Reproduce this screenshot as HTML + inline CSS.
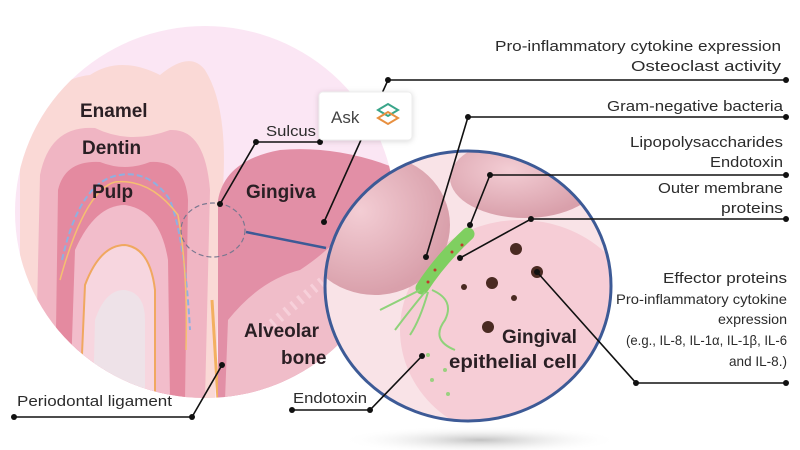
<!DOCTYPE html>
<html><head><meta charset="utf-8"><style>
html,body{margin:0;padding:0;background:#fff;}
svg{display:block;}
text{font-family:"Liberation Sans",sans-serif;fill:#222;}
.b{font-weight:bold;font-size:19px;fill:#2a1f24;}
.s{font-size:15px;fill:#2b2b2b;}
.e{font-size:14px;fill:#2b2b2b;}
</style></head><body>
<svg width="800" height="450" viewBox="0 0 800 450" xmlns="http://www.w3.org/2000/svg">
<defs>
<clipPath id="big"><ellipse cx="205" cy="212" rx="190" ry="186"/></clipPath>
<clipPath id="blue"><ellipse cx="468" cy="286" rx="143" ry="135"/></clipPath>
<radialGradient id="sh" cx="0.5" cy="0.5" r="0.5"><stop offset="0" stop-color="#999" stop-opacity="0.6"/><stop offset="1" stop-color="#fff" stop-opacity="0"/></radialGradient>
<radialGradient id="cell" cx="0.4" cy="0.4" r="0.6"><stop offset="0" stop-color="#f3cdd4"/><stop offset="1" stop-color="#d9a0ab"/></radialGradient>
</defs>
<ellipse cx="480" cy="440" rx="140" ry="14" fill="url(#sh)"/>
<ellipse cx="205" cy="212" rx="190" ry="186" fill="#fbe6f4"/>
<g clip-path="url(#big)">
 <path d="M20 400 L20 150 Q40 80 90 75 Q120 55 160 75 Q190 50 205 70 Q230 110 222 200 L215 400 Z" fill="#fad9d6"/>
 <path d="M35 400 L40 175 Q50 125 95 128 Q130 145 170 130 Q205 128 210 190 L205 400 Z" fill="#f0b5c3"/>
 <path d="M55 400 L58 190 Q65 160 100 162 Q125 172 150 162 Q185 160 188 200 L185 400 Z" fill="#e48aa0"/>
 <path d="M70 400 L75 250 Q95 205 125 205 Q160 210 168 260 L170 400 Z" fill="#f2bdcb"/>
 <path d="M80 400 L85 285 Q100 245 125 245 Q150 248 155 290 L155 400 Z" fill="#f7d6df" stroke="#f0a860" stroke-width="2"/>
 <path d="M93 400 L95 320 Q105 290 124 290 Q145 292 145 320 L145 400 Z" fill="#eee2e8"/>
 <path d="M62 260 Q80 180 120 175 Q150 170 170 200 Q185 240 190 330" fill="none" stroke="#8fb0e0" stroke-width="2" stroke-dasharray="6 3"/>
 <path d="M60 280 Q85 190 115 182 Q150 178 178 215 Q188 270 186 350" fill="none" stroke="#f5c070" stroke-width="1.5"/>
 <path d="M212 300 L218 400" stroke="#f3b060" stroke-width="3"/>
 <path d="M218 400 L218 200 Q225 160 280 150 Q340 145 400 170 L400 400 Z" fill="#e28fa6"/>
 <path d="M225 400 L228 320 Q260 280 300 270 Q330 250 345 230 L400 240 L400 400 Z" fill="#f0bdc9"/>
 <path d="M265 330 Q300 300 330 275" stroke="#f7d0da" stroke-width="10" stroke-dasharray="3 6" fill="none"/>
</g>
<ellipse cx="213" cy="230" rx="32" ry="27" fill="none" stroke="#7a7890" stroke-width="1.2" stroke-dasharray="5 3"/>
<line x1="246" y1="232" x2="326" y2="248" stroke="#3d5a96" stroke-width="2.5"/>
<g clip-path="url(#blue)">
 <rect x="320" y="150" width="300" height="280" fill="#f9e3e7"/>
 <ellipse cx="520" cy="330" rx="120" ry="110" fill="#f6cdd6"/>
 <ellipse cx="375" cy="225" rx="75" ry="70" fill="url(#cell)"/>
 <ellipse cx="525" cy="178" rx="75" ry="40" fill="url(#cell)"/>
 <circle cx="516" cy="249" r="6" fill="#4a2a22"/>
 <circle cx="537" cy="272" r="6" fill="#4a2a22"/>
 <circle cx="492" cy="283" r="6" fill="#4a2a22"/>
 <circle cx="464" cy="287" r="3" fill="#4a2a22"/>
 <circle cx="514" cy="298" r="3" fill="#4a2a22"/>
 <circle cx="488" cy="327" r="6" fill="#4a2a22"/>
 <path d="M422 288 Q440 260 468 234" stroke="#7fcf60" stroke-width="13" stroke-linecap="round" fill="none"/>
 <circle cx="435" cy="270" r="1.5" fill="#c0392b"/><circle cx="452" cy="252" r="1.5" fill="#c0392b"/><circle cx="462" cy="245" r="1.5" fill="#c0392b"/><circle cx="428" cy="282" r="1.5" fill="#c0392b"/>
 <path d="M420 290 Q400 300 380 310 M425 292 Q410 310 395 330 M428 292 Q420 320 410 335 M432 290 Q455 300 445 320 Q430 340 455 350" stroke="#8fd27a" stroke-width="2" fill="none"/>
 <circle cx="428" cy="355" r="2" fill="#9ad080"/><circle cx="445" cy="370" r="2" fill="#9ad080"/><circle cx="432" cy="380" r="2" fill="#9ad080"/><circle cx="448" cy="394" r="2" fill="#9ad080"/>
</g>
<ellipse cx="468" cy="286" rx="143" ry="135" fill="none" stroke="#3d5a96" stroke-width="3"/>
<g stroke="#111" stroke-width="1.6" fill="none">
 <polyline points="324,222 388,80 786,80"/>
 <polyline points="426,257 468,117 786,117"/>
 <polyline points="470,225 490,175 786,175"/>
 <polyline points="460,258 531,219 786,219"/>
 <polyline points="537,272 636,383 786,383"/>
 <polyline points="292,410 370,410 422,356"/>
 <polyline points="14,417 192,417 222,365"/>
 <polyline points="220,204 256,142 320,142"/>
</g>
<g fill="#111">
 <circle cx="324" cy="222" r="3"/><circle cx="388" cy="80" r="3"/><circle cx="786" cy="80" r="3"/>
 <circle cx="426" cy="257" r="3"/><circle cx="468" cy="117" r="3"/><circle cx="786" cy="117" r="3"/>
 <circle cx="470" cy="225" r="3"/><circle cx="490" cy="175" r="3"/><circle cx="786" cy="175" r="3"/>
 <circle cx="460" cy="258" r="3"/><circle cx="531" cy="219" r="3"/><circle cx="786" cy="219" r="3"/>
 <circle cx="537" cy="272" r="3"/><circle cx="636" cy="383" r="3"/><circle cx="786" cy="383" r="3"/>
 <circle cx="292" cy="410" r="3"/><circle cx="370" cy="410" r="3"/><circle cx="422" cy="356" r="3"/>
 <circle cx="14" cy="417" r="3"/><circle cx="192" cy="417" r="3"/><circle cx="222" cy="365" r="3"/>
 <circle cx="220" cy="204" r="3"/><circle cx="256" cy="142" r="3"/><circle cx="320" cy="142" r="3"/>
</g>
<rect x="319" y="92" width="93" height="48" rx="4" fill="#fff" stroke="#eee" style="filter:drop-shadow(0 1px 3px rgba(0,0,0,0.15))"/>
<text x="331" y="123" style="font-size:17px;fill:#444">Ask</text>
<path d="M378 110 l10 -6 l10 6 l-10 6 z" fill="none" stroke="#3aa58a" stroke-width="2"/>
<path d="M378 118 l10 -6 l10 6 l-10 6 z" fill="none" stroke="#e89040" stroke-width="2"/>
<text class="b" x="80" y="117">Enamel</text>
<text class="b" x="82" y="154">Dentin</text>
<text class="b" x="92" y="198">Pulp</text>
<text class="b" x="246" y="198">Gingiva</text>
<text class="b" x="244" y="337">Alveolar</text>
<text class="b" x="281" y="364">bone</text>
<text class="b" x="502" y="343">Gingival</text>
<text class="b" x="449" y="368" textLength="128" lengthAdjust="spacingAndGlyphs">epithelial cell</text>
<text class="s" x="266" y="136" textLength="50" lengthAdjust="spacingAndGlyphs">Sulcus</text>
<text class="s" x="17" y="406" textLength="155" lengthAdjust="spacingAndGlyphs">Periodontal ligament</text>
<text class="s" x="293" y="403" textLength="74" lengthAdjust="spacingAndGlyphs">Endotoxin</text>
<g text-anchor="end">
 <text class="s" x="781" y="51" textLength="286" lengthAdjust="spacingAndGlyphs">Pro-inflammatory cytokine expression</text>
 <text class="s" x="781" y="71" textLength="150" lengthAdjust="spacingAndGlyphs">Osteoclast activity</text>
 <text class="s" x="783" y="111" textLength="176" lengthAdjust="spacingAndGlyphs">Gram-negative bacteria</text>
 <text class="s" x="783" y="147" textLength="153" lengthAdjust="spacingAndGlyphs">Lipopolysaccharides</text>
 <text class="s" x="783" y="167" textLength="73" lengthAdjust="spacingAndGlyphs">Endotoxin</text>
 <text class="s" x="783" y="193" textLength="125" lengthAdjust="spacingAndGlyphs">Outer membrane</text>
 <text class="s" x="783" y="213" textLength="62" lengthAdjust="spacingAndGlyphs">proteins</text>
 <text class="s" x="787" y="283" textLength="124" lengthAdjust="spacingAndGlyphs">Effector proteins</text>
 <text class="e" x="787" y="304" textLength="171" lengthAdjust="spacingAndGlyphs">Pro-inflammatory cytokine</text>
 <text class="e" x="787" y="324" textLength="69" lengthAdjust="spacingAndGlyphs">expression</text>
 <text class="e" x="787" y="345" textLength="161" lengthAdjust="spacingAndGlyphs">(e.g., IL-8, IL-1α, IL-1β, IL-6</text>
 <text class="e" x="787" y="366" textLength="58" lengthAdjust="spacingAndGlyphs">and IL-8.)</text>
</g>
</svg>
</body></html>
